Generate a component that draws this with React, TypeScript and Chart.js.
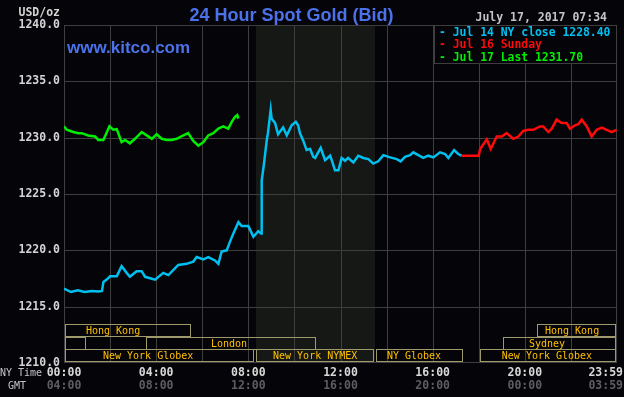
import React, { useEffect, useRef } from "react";
import { Chart, registerables } from "chart.js";

Chart.register(...registerables);

// ---- Data (hours since 00:00 NY time, price USD/oz) ----
const jul14Hours = [
  0, 0.3, 0.6, 0.9, 1.2, 1.5, 1.65, 1.71, 1.85, 2.0, 2.29, 2.5, 2.72, 2.86, 3.15, 3.37, 3.52, 3.95,
  4.31, 4.53, 4.96, 5.32, 5.61, 5.76, 6.05, 6.26, 6.55, 6.7, 6.84, 7.06, 7.2, 7.35, 7.57, 7.71, 8.0,
  8.22, 8.43, 8.55, 8.58, 8.68, 8.8, 8.85, 8.97, 9.01, 9.16, 9.29, 9.51, 9.67, 9.88, 10.06, 10.16,
  10.24, 10.37, 10.53, 10.68, 10.82, 10.9, 11.14, 11.33, 11.55, 11.62, 11.76, 11.91, 12.05, 12.2,
  12.33, 12.56, 12.77, 12.99, 13.21, 13.42, 13.64, 13.86, 14.15, 14.44, 14.61, 14.8, 15.02, 15.16,
  15.38, 15.59, 15.81, 16.03, 16.32, 16.54, 16.68, 16.93, 17.11, 17.25,
];
const jul14Prices = [
  1216.6, 1216.3, 1216.45, 1216.3, 1216.4, 1216.35, 1216.4, 1217.2, 1217.4, 1217.7, 1217.7, 1218.6,
  1218.0, 1217.65, 1218.15, 1218.15, 1217.65, 1217.4, 1218.0, 1217.8, 1218.7, 1218.8, 1219.0, 1219.4,
  1219.2, 1219.4, 1219.1, 1218.8, 1219.9, 1220.0, 1220.75, 1221.5, 1222.5, 1222.15, 1222.15, 1221.2,
  1221.7, 1221.5, 1226.2, 1227.7, 1229.8, 1230.4, 1232.45, 1231.7, 1231.3, 1230.3, 1230.9, 1230.2,
  1231.1, 1231.4, 1231.1, 1230.4, 1229.8, 1228.9, 1229.0, 1228.3, 1228.2, 1229.1, 1228.0, 1228.4,
  1228.0, 1227.1, 1227.1, 1228.2, 1227.95, 1228.2, 1227.8, 1228.4, 1228.2, 1228.1, 1227.7, 1227.9,
  1228.45, 1228.25, 1228.1, 1227.9, 1228.3, 1228.45, 1228.7, 1228.45, 1228.2, 1228.4, 1228.25,
  1228.7, 1228.55, 1228.2, 1228.9, 1228.55, 1228.4,
];

const jul16Hours = [
  17.25, 18.0, 18.06, 18.35, 18.52, 18.78, 19.0, 19.21, 19.5, 19.72, 19.93, 20.15, 20.37, 20.66,
  20.8, 21.02, 21.17, 21.38, 21.6, 21.82, 21.96, 22.18, 22.32, 22.47, 22.69, 22.9, 23.12, 23.34,
  23.55, 23.77, 23.98,
];
const jul16Prices = [
  1228.4, 1228.4, 1229.0, 1229.85, 1229.0, 1230.1, 1230.1, 1230.4, 1229.9, 1230.1, 1230.6, 1230.7,
  1230.7, 1231.0, 1231.0, 1230.5, 1230.8, 1231.6, 1231.3, 1231.3, 1230.8, 1231.1, 1231.2, 1231.6,
  1231.0, 1230.1, 1230.7, 1230.9, 1230.7, 1230.5, 1230.7,
];

const jul17Hours = [
  0, 0.12, 0.4, 0.62, 0.77, 1.05, 1.35, 1.49, 1.71, 1.97, 2.14, 2.29, 2.5, 2.65, 2.86, 3.08, 3.37,
  3.59, 3.81, 4.02, 4.24, 4.46, 4.67, 4.89, 5.18, 5.39, 5.61, 5.83, 6.05, 6.26, 6.48, 6.7, 6.91,
  7.13, 7.28, 7.42, 7.52, 7.567,
];
const jul17Prices = [
  1231.0, 1230.7, 1230.5, 1230.4, 1230.4, 1230.2, 1230.1, 1229.8, 1229.8, 1231.0, 1230.7, 1230.75,
  1229.6, 1229.8, 1229.5, 1229.9, 1230.5, 1230.2, 1229.9, 1230.3, 1229.9, 1229.8, 1229.8, 1229.9,
  1230.2, 1230.4, 1229.7, 1229.3, 1229.6, 1230.2, 1230.4, 1230.8, 1231.0, 1230.8, 1231.4, 1231.85,
  1232.0, 1231.7,
];

const yTicks = [1240, 1235, 1230, 1225, 1220, 1215, 1210];
const gridHours = [0, 2, 4, 6, 8, 10, 12, 14, 16, 18, 20, 22, 24];
const xTickHours = [0, 4, 8, 12, 16, 20, 23.983];
const nyTimeLabels = ["00:00", "04:00", "08:00", "12:00", "16:00", "20:00", "23:59"];
const gmtLabels = ["04:00", "08:00", "12:00", "16:00", "20:00", "00:00", "03:59"];

const nymexShade = [8.33, 13.5];

// trading sessions: name, start hour, end hour, row, label hour
const sessionNames = ["Hong Kong", "Hong Kong", "", "London", "Sydney", "New York Globex", "New York NYMEX", "NY Globex", "New York Globex"];
const sessionStarts = [0, 20.5, 0, 3.5, 19.0, 0, 8.3, 13.5, 18.0];
const sessionEnds = [5.5, 24, 0.97, 10.95, 24, 8.26, 13.47, 17.32, 24];
const sessionRows = [0, 0, 1, 1, 1, 2, 2, 2, 2];
const sessionLabelHours = [2.13, 22.05, 0, 7.16, 20.96, 3.65, 10.9, 15.19, 20.96];

const titleText = "24 Hour Spot Gold (Bid)";
const siteText = "www.kitco.com";
const stampText = "July 17, 2017 07:34";
const unitText = "USD/oz";

const BLUE = "#00c0f0";
const RED = "#ff0a0a";
const GREEN = "#00ee00";

const MONO = '"DejaVu Sans Mono", "Liberation Mono", monospace';
const SANS = '"Liberation Sans", Arial, sans-serif';

const decorPlugin = {
  id: "kitcoDecor",
  beforeDraw(chart: any) {
    const { ctx, chartArea: ca, scales } = chart;
    const x = scales.x;
    const y = scales.y;
    ctx.save();
    ctx.fillStyle = "#050408";
    ctx.fillRect(0, 0, chart.width, chart.height);
    // NYMEX shading
    const sx = Math.round(x.getPixelForValue(nymexShade[0]));
    const ex = Math.round(x.getPixelForValue(nymexShade[1]));
    ctx.fillStyle = "#151815";
    ctx.fillRect(sx, ca.top, ex - sx, ca.bottom - ca.top);
    // grid
    ctx.strokeStyle = "#3e3e3e";
    ctx.lineWidth = 1;
    ctx.beginPath();
    gridHours.forEach((h) => {
      const px = Math.min(Math.round(x.getPixelForValue(h)), Math.round(ca.right) - 1) + 0.5;
      ctx.moveTo(px, ca.top);
      ctx.lineTo(px, ca.bottom);
    });
    yTicks.forEach((v) => {
      const py = Math.min(Math.round(y.getPixelForValue(v)), Math.round(ca.bottom) - 1) + 0.5;
      ctx.moveTo(ca.left, py);
      ctx.lineTo(ca.right, py);
    });
    ctx.stroke();
    ctx.restore();
  },
  afterDraw(chart: any) {
    const { ctx, chartArea: ca, scales } = chart;
    const x = scales.x;
    const y = scales.y;
    ctx.save();

    // session boxes
    const bottom = Math.round(y.getPixelForValue(1210));
    const rowTops = [bottom - 39, bottom - 26, bottom - 14];
    ctx.lineWidth = 1;
    ctx.font = `10px ${MONO}`;
    ctx.textAlign = "center";
    ctx.textBaseline = "middle";
    sessionNames.forEach((name, i) => {
      const l = Math.round(x.getPixelForValue(sessionStarts[i])) + 1;
      const r = Math.min(Math.round(x.getPixelForValue(sessionEnds[i])), Math.round(ca.right) - 1);
      const t = rowTops[sessionRows[i]];
      ctx.strokeStyle = "#9e9a6c";
      ctx.strokeRect(l + 0.5, t + 0.5, r - l - 1, 12);
      if (name) {
        ctx.fillStyle = "#ffc000";
        ctx.fillText(name, x.getPixelForValue(sessionLabelHours[i]), t + 7);
      }
    });

    // legend box
    const lx = Math.round(ca.right) - 183;
    ctx.fillStyle = "#050408";
    ctx.fillRect(lx, ca.top, Math.round(ca.right) - lx, 38);
    ctx.strokeStyle = "#3e3e3e";
    ctx.strokeRect(lx + 0.5, ca.top + 0.5, Math.round(ca.right) - lx - 1, 38);
    ctx.font = `bold 11.4px ${MONO}`;
    ctx.textAlign = "left";
    ctx.textBaseline = "alphabetic";
    const legendLines = [
      { c: BLUE, t: `- Jul 14 NY close ${jul14Prices[jul14Prices.length - 1].toFixed(2)}` },
      { c: RED, t: "- Jul 16 Sunday" },
      { c: GREEN, t: `- Jul 17 Last ${jul17Prices[jul17Prices.length - 1].toFixed(2)}` },
    ];
    legendLines.forEach((ln, i) => {
      ctx.fillStyle = ln.c;
      ctx.fillText(ln.t, lx + 5, ca.top + 11 + i * 12.4);
    });

    // titles
    ctx.fillStyle = "#4b72ea";
    ctx.font = `bold 18px ${SANS}`;
    ctx.textAlign = "center";
    ctx.fillText(titleText, 291.5, 21);
    ctx.textAlign = "left";
    ctx.font = `bold 17px ${SANS}`;
    ctx.fillText(siteText, ca.left + 3, 53);

    ctx.fillStyle = "#c4c4c4";
    ctx.font = `bold 11.5px ${MONO}`;
    ctx.textAlign = "right";
    ctx.fillText(stampText, 607, 21);

    // y labels
    ctx.fillStyle = "#d4d4d4";
    ctx.textBaseline = "middle";
    ctx.fillText(unitText, ca.left - 4, 13);
    yTicks.forEach((v) => {
      ctx.fillText(v.toFixed(1), ca.left - 4, y.getPixelForValue(v));
    });

    // x labels
    ctx.textAlign = "center";
    xTickHours.forEach((h, i) => {
      const w = ctx.measureText(nyTimeLabels[i]).width;
      let cx = x.getPixelForValue(h);
      cx = Math.min(cx, chart.width - w / 2 - 1);
      ctx.fillStyle = "#d8d8d8";
      ctx.fillText(nyTimeLabels[i], cx, bottom + 10);
      ctx.fillStyle = "#5e5e5e";
      ctx.fillText(gmtLabels[i], cx, bottom + 23);
    });
    ctx.font = `10px ${MONO}`;
    ctx.fillStyle = "#c4c4c4";
    ctx.textAlign = "left";
    ctx.fillText("NY Time", 0, bottom + 10);
    ctx.textAlign = "center";
    ctx.fillText("GMT", 17, bottom + 23);

    ctx.restore();
  },
};

function toPoints(hours: number[], prices: number[]) {
  return hours.map((h, i) => ({ x: h, y: prices[i] }));
}

export default function App() {
  const canvasRef = useRef<HTMLCanvasElement | null>(null);

  useEffect(() => {
    if (!canvasRef.current) return;
    const chart = new Chart(canvasRef.current, {
      type: "line",
      data: {
        datasets: [
          { label: "Jul 14", data: toPoints(jul14Hours, jul14Prices), borderColor: BLUE, borderWidth: 2.5, pointRadius: 0, tension: 0 },
          { label: "Jul 16", data: toPoints(jul16Hours, jul16Prices), borderColor: RED, borderWidth: 2.5, pointRadius: 0, tension: 0 },
          { label: "Jul 17", data: toPoints(jul17Hours, jul17Prices), borderColor: GREEN, borderWidth: 2.5, pointRadius: 0, tension: 0 },
        ],
      },
      options: {
        responsive: false,
        animation: false,
        layout: { padding: { left: 64, top: 25, right: 7, bottom: 34 } },
        plugins: { legend: { display: false }, tooltip: { enabled: false }, title: { display: false } },
        scales: {
          x: { type: "linear", min: 0, max: 24, display: false },
          y: { type: "linear", min: 1210, max: 1240, display: false },
        },
      },
      plugins: [decorPlugin],
    });
    return () => chart.destroy();
  }, []);

  return (
    <div style={{ position: "fixed", left: 0, top: 0, width: 624, height: 397, background: "#050408" }}>
      <canvas ref={canvasRef} width={624} height={397} style={{ width: 624, height: 397, display: "block" }} />
    </div>
  );
}
